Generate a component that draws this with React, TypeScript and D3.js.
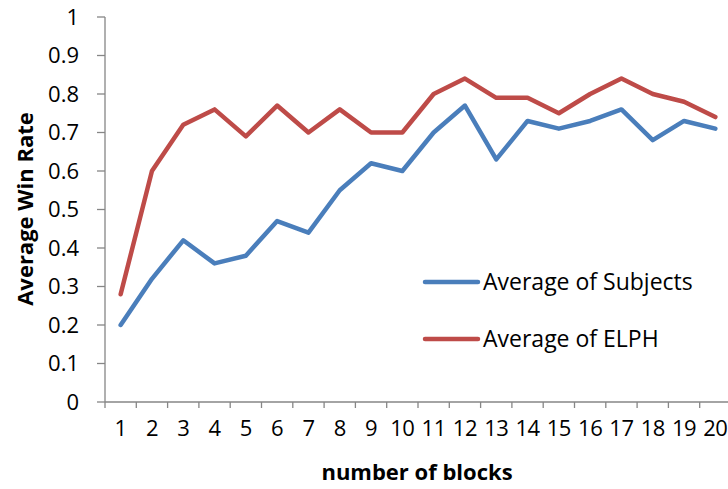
import React, { useEffect, useRef } from "react";
import * as d3 from "d3";

const blocks = ["1","2","3","4","5","6","7","8","9","10","11","12","13","14","15","16","17","18","19","20"];
const subjects = [0.20,0.32,0.42,0.36,0.38,0.47,0.44,0.55,0.62,0.60,0.70,0.77,0.63,0.73,0.71,0.73,0.76,0.68,0.73,0.71];
const elph = [0.28,0.60,0.72,0.76,0.69,0.77,0.70,0.76,0.70,0.70,0.80,0.84,0.79,0.79,0.75,0.80,0.84,0.80,0.78,0.74];
const yTicks = [0,0.1,0.2,0.3,0.4,0.5,0.6,0.7,0.8,0.9,1];
const seriesNames = ["Average of Subjects", "Average of ELPH"];
const seriesColors = ["#4A7EBB", "#BE4B48"];

const W = 728, H = 489;
const FONT = "'Open Sans', 'DejaVu Sans', sans-serif";

export default function App() {
  const ref = useRef<SVGSVGElement>(null);
  useEffect(() => {
    const svg = d3.select(ref.current);
    svg.selectAll("*").remove();
    const left = 105, right = 731, top = 17, bottom = 402;
    const x = d3.scaleBand().domain(blocks).range([left, right]);
    const y = d3.scaleLinear().domain([0, 1]).range([bottom, top]);
    const axisColor = "#868686";

    // y axis
    svg.append("line").attr("x1", left).attr("x2", left).attr("y1", top).attr("y2", bottom)
      .attr("stroke", axisColor).attr("stroke-width", 1.3);
    yTicks.forEach(t => {
      svg.append("line").attr("x1", left - 8).attr("x2", left).attr("y1", y(t)).attr("y2", y(t))
        .attr("stroke", axisColor).attr("stroke-width", 1.3);
      svg.append("text").attr("x", 79).attr("y", y(t)).attr("dy", "0.36em")
        .attr("text-anchor", "end").attr("font-family", FONT).attr("font-size", 22)
        .attr("fill", "#000").text(d3.format("")(+t.toFixed(1)));
    });

    // x axis
    svg.append("line").attr("x1", left).attr("x2", right).attr("y1", bottom).attr("y2", bottom)
      .attr("stroke", axisColor).attr("stroke-width", 1.3);
    const edges = blocks.map(b => x(b)!).concat([right]);
    edges.forEach(e => {
      svg.append("line").attr("x1", e).attr("x2", e).attr("y1", bottom).attr("y2", bottom + 6)
        .attr("stroke", axisColor).attr("stroke-width", 1.3);
    });
    blocks.forEach(b => {
      svg.append("text").attr("x", x(b)! + x.bandwidth() / 2).attr("y", 436)
        .attr("text-anchor", "middle").attr("font-family", FONT).attr("font-size", 22)
        .attr("letter-spacing", "-0.5px")
        .attr("fill", "#000").text(b);
    });

    // series
    const line = d3.line<number>()
      .x((_, i) => x(blocks[i])! + x.bandwidth() / 2)
      .y(d => y(d));
    [subjects, elph].forEach((s, i) => {
      svg.append("path").attr("d", line(s)!).attr("fill", "none")
        .attr("stroke", seriesColors[i]).attr("stroke-width", 4.5)
        .attr("stroke-linejoin", "round").attr("stroke-linecap", "round");
    });

    // legend
    seriesNames.forEach((n, i) => {
      const ly = 282 + i * 57;
      svg.append("line").attr("x1", 425).attr("x2", 478).attr("y1", ly).attr("y2", ly)
        .attr("stroke", seriesColors[i]).attr("stroke-width", 4.5).attr("stroke-linecap", "round");
      svg.append("text").attr("x", 483).attr("y", ly).attr("dy", "0.36em")
        .attr("font-family", FONT).attr("font-size", 23).attr("fill", "#000").text(n);
    });

    // axis titles
    svg.append("text").attr("transform", `translate(33,209) rotate(-90)`)
      .attr("text-anchor", "middle").attr("font-family", FONT).attr("font-weight", "bold")
      .attr("font-size", 22).attr("fill", "#000").text("Average Win Rate");
    svg.append("text").attr("x", 417).attr("y", 480)
      .attr("text-anchor", "middle").attr("font-family", FONT).attr("font-weight", "bold")
      .attr("font-size", 22).attr("fill", "#000").text("number of blocks");
  }, []);
  return (
    <svg ref={ref} width={W} height={H}
      style={{ position: "absolute", left: 0, top: 0, display: "block", background: "#fff" }} />
  );
}
